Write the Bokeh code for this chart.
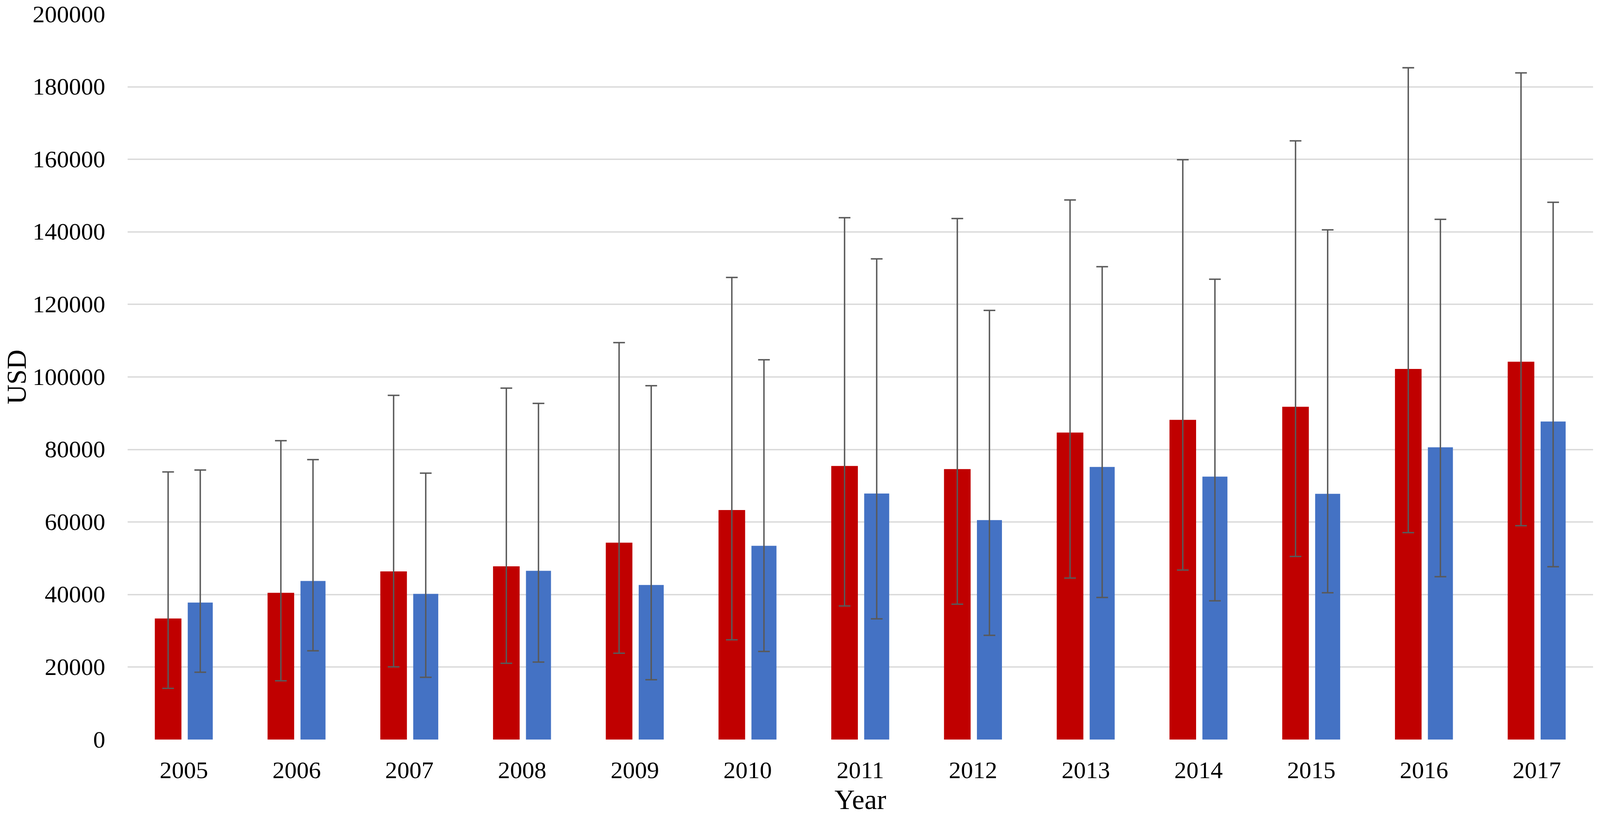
from bokeh.plotting import figure
from bokeh.models import ColumnDataSource, FactorRange, FixedTicker, BasicTickFormatter
from bokeh.transform import dodge
from bokeh.embed import file_html
from bokeh.resources import INLINE

years = ["2005", "2006", "2007", "2008", "2009", "2010", "2011", "2012",
         "2013", "2014", "2015", "2016", "2017"]
red_mean = [33400, 40500, 46400, 47800, 54300, 63300, 75450, 74600,
            84660, 88170, 91770, 102200, 104200]
red_low = [14150, 16230, 20070, 21050, 23830, 27530, 36860, 37350,
           44550, 46760, 50510, 57080, 58990]
red_high = [73810, 82430, 94930, 96920, 109470, 127440, 143910, 143680,
            148800, 159900, 165100, 185250, 183830]
blue_mean = [37800, 43750, 40200, 46550, 42650, 53450, 67870, 60540,
             75190, 72510, 67770, 80610, 87720]
blue_low = [18590, 24500, 17190, 21390, 16520, 24320, 33310, 28760,
            39200, 38280, 40500, 44930, 47680]
blue_high = [74340, 77210, 73480, 92710, 97590, 104740, 132560, 118350,
             130400, 126950, 140560, 143460, 148160]
y_ticks = [0, 20000, 40000, 60000, 80000, 100000, 120000, 140000,
           160000, 180000, 200000]
x_title = "Year"
y_title = "USD"

src = ColumnDataSource(dict(year=years, red=red_mean, red_lo=red_low, red_hi=red_high,
                            blue=blue_mean, blue_lo=blue_low, blue_hi=blue_high))

FONT = "Liberation Serif"
RED = "#C00000"
BLUE = "#4472C4"
ERR = "#595959"

p = figure(width=4080, height=2100, x_range=FactorRange(*years), y_range=(0, 200000),
           output_backend="svg", toolbar_location=None,
           min_border_left=325, min_border_right=2, min_border_top=36, min_border_bottom=208)
p.outline_line_color = None
p.background_fill_color = "white"
p.border_fill_color = "white"

r_off, b_off = -0.14, 0.145
p.vbar(x=dodge("year", r_off, range=p.x_range), top="red", width=0.236, source=src,
       fill_color=RED, line_color=None)
p.vbar(x=dodge("year", b_off, range=p.x_range), top="blue", width=0.222, source=src,
       fill_color=BLUE, line_color=None)

for off, lo, hi in [(r_off, "red_lo", "red_hi"), (b_off, "blue_lo", "blue_hi")]:
    xs = dodge("year", off, range=p.x_range)
    p.segment(x0=xs, y0=lo, x1=xs, y1=hi, source=src, line_color=ERR, line_width=3.6)
    for col in (lo, hi):
        p.scatter(x=xs, y=col, marker="dash", size=30, source=src,
                  line_color=ERR, line_width=3.6)

p.xgrid.grid_line_color = None
p.ygrid.grid_line_color = "#d9d9d9"
p.ygrid.grid_line_width = 3.5
p.yaxis.ticker = FixedTicker(ticks=y_ticks)
p.yaxis.formatter = BasicTickFormatter(use_scientific=False)

for ax in (p.xaxis[0], p.yaxis[0]):
    ax.axis_line_color = None
    ax.major_tick_line_color = None
    ax.minor_tick_line_color = None
    ax.major_label_text_font = FONT
    ax.major_label_text_font_size = "62px"
    ax.major_label_text_color = "black"
    ax.axis_label_text_font = FONT
    ax.axis_label_text_font_size = "72px"
    ax.axis_label_text_font_style = "normal"
    ax.axis_label_text_color = "black"
p.yaxis.axis_label_text_font_size = "70px"

p.xaxis.axis_label = x_title
p.yaxis.axis_label = y_title
p.yaxis.major_label_standoff = 51
p.xaxis.major_label_standoff = 52
p.yaxis.axis_label_standoff = 0
p.xaxis.axis_label_standoff = 12

open("out.html", "w").write(file_html(p, INLINE))
